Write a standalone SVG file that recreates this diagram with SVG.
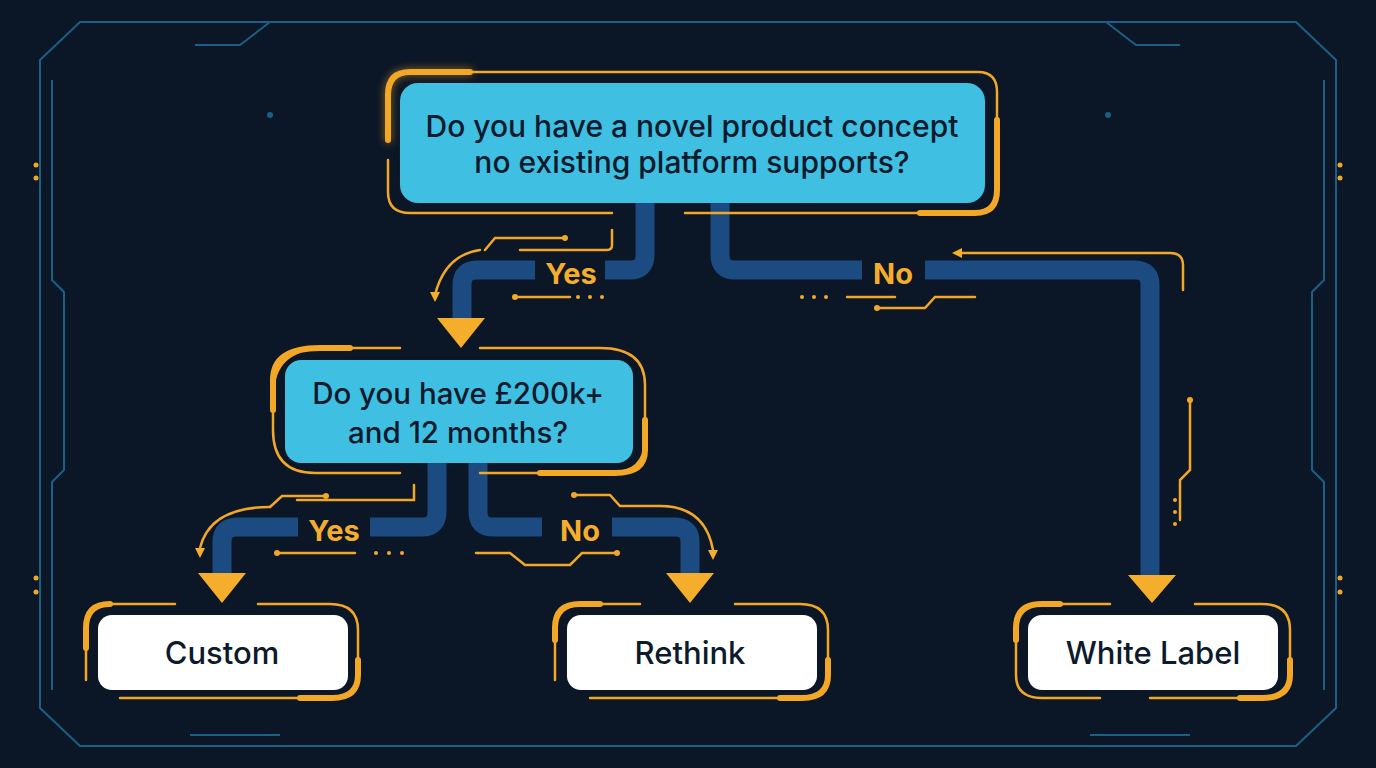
<svg xmlns="http://www.w3.org/2000/svg" width="1376" height="768" viewBox="0 0 1376 768">
<defs>
<style>
.pipe{fill:none;stroke:#1c4b82;stroke-width:19;stroke-linejoin:round}
.gold{fill:none;stroke:#f2a826;stroke-width:2.5;stroke-linecap:round}
.goldT{fill:none;stroke:#f2a826;stroke-width:6;stroke-linecap:round}
.arr{fill:#f5ad2c}
.q{fill:#3fbfe2}
.t{fill:#ffffff}
.qt{font-family:Inter,"Liberation Sans",sans-serif;font-weight:500;fill:#0c1a2c;text-anchor:middle}
.lbl{font-family:Inter,"Liberation Sans",sans-serif;font-weight:700;font-size:29px;fill:#f5ad2c;text-anchor:middle}
.frame{fill:none;stroke:#1b5f86;stroke-width:2}
.dot{fill:#f2a826}
</style>
<filter id="glow" x="-20%" y="-20%" width="140%" height="140%"><feGaussianBlur stdDeviation="4"/></filter>
</defs>
<rect width="1376" height="768" fill="#0b1626"/>
<g id="frame">
<path class="frame" d="M40 60 L80 22 H1296 L1336 60 V708 L1296 746 H80 L40 708 Z"/>
<path class="frame" d="M52 80 V280 L64 292 V470 L52 482 V690"/>
<path class="frame" d="M1324 80 V280 L1312 292 V470 L1324 482 V690"/>
<path class="frame" d="M195 45 H240 L270 22"/>
<path class="frame" d="M1106 22 L1136 45 H1180"/>
<path class="frame" d="M190 735 H280"/>
<path class="frame" d="M1090 735 H1190"/>
<circle cx="270" cy="115" r="3" fill="#1b5f86"/>
<circle cx="1108" cy="115" r="3" fill="#1b5f86"/>
<circle cx="36" cy="165" r="2.5" class="dot"/><circle cx="36" cy="178" r="2.5" class="dot"/>
<circle cx="1340" cy="165" r="2.5" class="dot"/><circle cx="1340" cy="178" r="2.5" class="dot"/>
<circle cx="36" cy="578" r="2.5" class="dot"/><circle cx="36" cy="592" r="2.5" class="dot"/>
<circle cx="1340" cy="578" r="2.5" class="dot"/><circle cx="1340" cy="592" r="2.5" class="dot"/>
</g>
<g id="connectors">
<path class="pipe" d="M645 203 V255 Q645 270 630 270 H605"/>
<path class="pipe" d="M535 270 H477 Q462 270 462 285 V318"/>
<path class="pipe" d="M720 203 V255 Q720 270 735 270 H862"/>
<path class="pipe" d="M925 270 H1135 Q1150 270 1150 285 V575"/>
<path class="pipe" d="M437 463 V512 Q437 527 422 527 H370"/>
<path class="pipe" d="M298 527 H237 Q222 527 222 542 V573"/>
<path class="pipe" d="M478 463 V512 Q478 527 493 527 H542"/>
<path class="pipe" d="M612 527 H675 Q690 527 690 542 V573"/>
<polygon class="arr" points="437,318 485,318 461,348"/>
<polygon class="arr" points="1128,575 1176,575 1152,603"/>
<polygon class="arr" points="198,573 246,573 222,603"/>
<polygon class="arr" points="666,573 714,573 690,603"/>
<text class="lbl" x="571" y="284">Yes</text>
<text class="lbl" x="893" y="284">No</text>
<text class="lbl" x="334" y="541">Yes</text>
<text class="lbl" x="580" y="541">No</text>
<path class="gold" d="M612 230 V245 Q612 250 607 250 H520"/>
<path class="gold" d="M480 250 Q445 255 435 295"/><polygon class="arr" points="430,292 440,292 435,302"/>
<path class="gold" d="M485 250 L495 238 H565"/><circle class="dot" cx="565" cy="238" r="3"/>
<path class="gold" d="M515 297 H570"/><circle class="dot" cx="515" cy="297" r="3"/>
<circle class="dot" cx="578" cy="297" r="2"/><circle class="dot" cx="590" cy="297" r="2"/><circle class="dot" cx="602" cy="297" r="2"/>
<path class="gold" d="M1183 290 V265 Q1183 253 1170 253 H962"/><polygon class="arr" points="952,253 962,248 962,258"/>
<path class="gold" d="M847 297 H895"/><circle class="dot" cx="802" cy="297" r="2"/><circle class="dot" cx="814" cy="297" r="2"/><circle class="dot" cx="826" cy="297" r="2"/>
<path class="gold" d="M877 308 H925 L935 297 H975"/><circle class="dot" cx="877" cy="308" r="3"/>
<path class="gold" d="M1190 400 V470 L1180 480 V520"/><circle class="dot" cx="1190" cy="400" r="3"/>
<circle class="dot" cx="1175" cy="500" r="2"/><circle class="dot" cx="1175" cy="512" r="2"/><circle class="dot" cx="1175" cy="524" r="2"/>
<path class="gold" d="M414 485 V500 H297"/>
<path class="gold" d="M270 507 Q210 507 200 548"/><polygon class="arr" points="195,548 205,548 200,558"/>
<path class="gold" d="M270 507 L282 496 H326"/><circle class="dot" cx="326" cy="496" r="3"/>
<path class="gold" d="M277 553 H355"/><circle class="dot" cx="277" cy="553" r="3"/>
<circle class="dot" cx="376" cy="553" r="2"/><circle class="dot" cx="389" cy="553" r="2"/><circle class="dot" cx="402" cy="553" r="2"/>
<path class="gold" d="M574 495 H610 L620 506 H660 Q705 506 713 550"/><circle class="dot" cx="574" cy="495" r="3"/><polygon class="arr" points="708,550 718,550 713,560"/>
<path class="gold" d="M476 553 H510 L525 565 H570 L582 553 H617"/><circle class="dot" cx="617" cy="553" r="3"/>
</g>
<g id="q1">
<path class="goldT" d="M388 140 V95 Q388 72 410 72 H470" filter="url(#glow)" opacity="0.6"/>
<path class="gold" d="M388 160 V192 Q388 213 410 213 H612"/>
<path class="gold" d="M388 140 V95 Q388 72 410 72 H978 Q997 72 997 92 V155"/>
<path class="goldT" d="M388 140 V95 Q388 72 410 72 H470"/>
<path class="goldT" d="M997 120 V190 Q997 213 975 213 H920"/>
<path class="gold" d="M920 213 H685"/>
<rect class="q" x="400" y="83" width="585" height="120" rx="18"/>
<text class="qt" x="692" y="137" font-size="30">Do you have a novel product concept</text>
<text class="qt" x="692" y="173" font-size="30">no existing platform supports?</text>
</g>
<g id="q2">
<path class="gold" d="M400 348 H325 Q273 348 273 395 V430 Q273 473 315 473 H400"/>
<path class="goldT" d="M273 410 V380 Q273 348 320 348 H350"/>
<path class="gold" d="M480 348 H600 Q645 348 645 385 V440 Q645 473 610 473 H480"/>
<path class="goldT" d="M645 420 V450 Q645 473 615 473 H540"/>
<rect class="q" x="285" y="360" width="348" height="103" rx="16"/>
<text class="qt" x="458" y="404" font-size="29.5">Do you have £200k+</text>
<text class="qt" x="458" y="443" font-size="29.5">and 12 months?</text>
</g>
<g id="custom">
<path class="gold" d="M175 604 H110 Q86 604 86 628 V680"/>
<path class="goldT" d="M86 648 V628 Q86 604 110 604"/>
<path class="gold" d="M258 604 H330 Q358 604 358 630 V675 Q358 698 332 698 H120"/>
<path class="goldT" d="M358 660 V675 Q358 698 332 698 H300"/>
<rect class="t" x="98" y="615" width="250" height="75" rx="14"/>
<text class="qt" x="222" y="664" font-size="31">Custom</text>
</g>
<g id="rethink">
<path class="gold" d="M640 604 H580 Q555 604 555 630 V680"/>
<path class="goldT" d="M555 640 V628 Q555 604 580 604 H600"/>
<path class="gold" d="M735 604 H800 Q828 604 828 630 V675 Q828 698 802 698 H590"/>
<path class="goldT" d="M828 660 V675 Q828 698 802 698 H780"/>
<rect class="t" x="567" y="615" width="250" height="75" rx="14"/>
<text class="qt" x="690" y="664" font-size="31">Rethink</text>
</g>
<g id="whitelabel">
<path class="gold" d="M1110 604 H1042 Q1016 604 1016 630 V675 Q1016 698 1042 698 H1100"/>
<path class="goldT" d="M1016 640 V628 Q1016 604 1042 604 H1060"/>
<path class="gold" d="M1195 604 H1262 Q1290 604 1290 630 V675 Q1290 698 1262 698 H1150"/>
<path class="goldT" d="M1290 660 V675 Q1290 698 1262 698 H1240"/>
<rect class="t" x="1028" y="615" width="250" height="75" rx="14"/>
<text class="qt" x="1153" y="664" font-size="31">White Label</text>
</g>
</svg>
